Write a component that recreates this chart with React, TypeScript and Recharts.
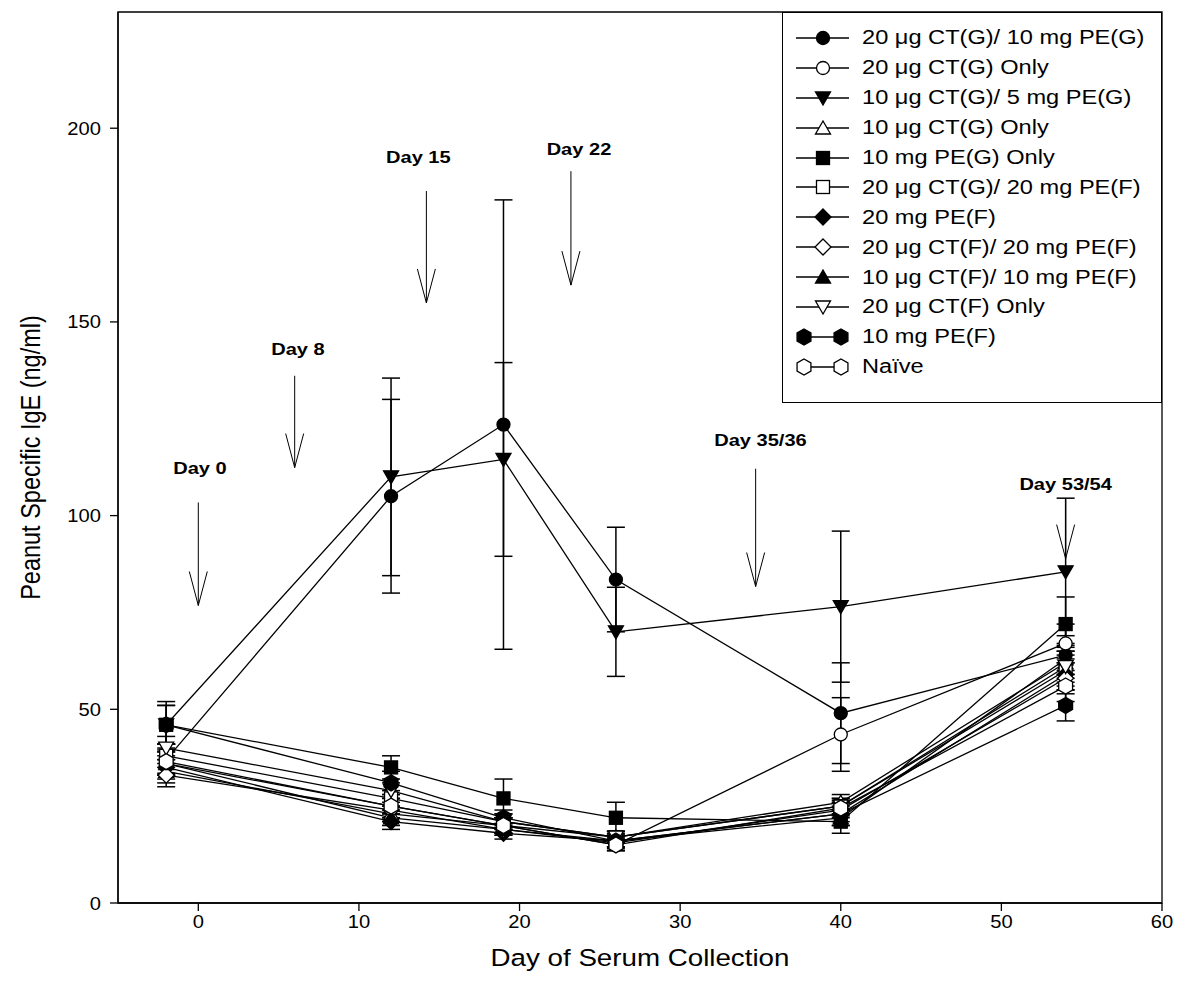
import React from "react";
import {
  LineChart,
  Line,
  XAxis,
  YAxis,
  ErrorBar,
  Legend,
  ReferenceArea,
  ReferenceLine,
  ReferenceDot,
  Label,
} from "recharts";

// serum collection days
const days = [-2, 12, 19, 26, 40, 54];

const groupNames = [
  "20 \u03bcg CT(G)/ 10 mg PE(G)",
  "20 \u03bcg CT(G) Only",
  "10 \u03bcg CT(G)/ 5 mg PE(G)",
  "10 \u03bcg CT(G) Only",
  "10 mg PE(G) Only",
  "20 \u03bcg CT(G)/ 20 mg PE(F)",
  "20 mg PE(F)",
  "20 \u03bcg CT(F)/ 20 mg PE(F)",
  "10 \u03bcg CT(F)/ 10 mg PE(F)",
  "20 \u03bcg CT(F) Only",
  "10 mg PE(F)",
  "Na\u00efve",
];
const groupShapes = [
  "circle", "circle", "triDown", "triUp", "square", "square",
  "diamond", "diamond", "triUp", "triDown", "hexagon", "hexagon",
];
const groupFilled = [true, false, true, false, true, false, true, false, true, false, true, false];

// IgE means (ng/ml)
const meanValues = [
  [37, 105, 123.5, 83.5, 49, 64],
  [36, 25, 20, 15, 43.5, 67],
  [46, 110, 114.5, 70, 76.5, 85.5],
  [34, 23, 20, 17, 26, 62],
  [46, 35, 27, 22, 21, 72],
  [38, 27, 21, 17, 25, 60],
  [35, 21, 18, 16, 23, 59],
  [33, 24, 19, 15.5, 24, 58],
  [36, 22, 19, 16, 22, 63],
  [40, 29, 21, 17, 25, 61],
  [46, 31, 22, 16, 23, 51],
  [36.5, 25, 20, 15, 24.5, 56],
];
const errorValues = [
  [4, 25, 58, 13.5, 13, 5],
  [3, 3, 2, 1.5, 9.5, 5],
  [6, 25.5, 25, 11.5, 19.5, 19],
  [3, 2, 2, 1.5, 2, 4],
  [5, 3, 5, 4, 3, 7],
  [3, 2, 2, 1.5, 2, 4],
  [3, 2, 1.5, 1.5, 2, 4],
  [3, 2, 1.5, 1.5, 2, 4],
  [3, 2, 1.5, 1.5, 2, 4],
  [3, 2, 2, 1.5, 2, 4],
  [5, 3, 2, 1.5, 3, 4],
  [3, 2, 2, 1.5, 2, 4],
];

// immunisation arrows
const arrowLabels = ["Day 0", "Day 8", "Day 15", "Day 22", "Day 35/36", "Day 53/54"];
const arrowDays = [0, 6, 14.2, 23.2, 34.7, 54];
const arrowTops = [103.4, 136.1, 183.8, 188.9, 112.1, 103.9];
const arrowTips = [76.8, 112.4, 154.9, 159.5, 81.7, 88.9];
const labelDays = [0.1, 6.2, 13.7, 23.7, 35, 54];
const labelLevels = [112.4, 143, 192.5, 194.6, 119.6, 108.2];

const xTicks = [0, 10, 20, 30, 40, 50, 60];
const yTicks = [0, 50, 100, 150, 200];

const FONT = "Arial, 'Liberation Sans', Helvetica, sans-serif";
const SX = 1.18;

const table = days.map((d, i) => {
  const row: any = { day: d };
  meanValues.forEach((m, g) => {
    row[`g${g}`] = m[i];
    row[`e${g}`] = errorValues[g][i];
  });
  return row;
});

function marker(shape: string, filled: boolean, cx: number, cy: number, key?: string) {
  const p = { fill: filled ? "#000" : "#fff", stroke: "#000", strokeWidth: 1.3 };
  if (shape === "circle") return <circle key={key} cx={cx} cy={cy} r={6.5} {...p} />;
  if (shape === "square") return <rect key={key} x={cx - 6.5} y={cy - 6.5} width={13} height={13} {...p} />;
  if (shape === "triDown")
    return <polygon key={key} points={`${cx - 7.5},${cy - 6} ${cx + 7.5},${cy - 6} ${cx},${cy + 7}`} {...p} />;
  if (shape === "triUp")
    return <polygon key={key} points={`${cx - 7.5},${cy + 6} ${cx + 7.5},${cy + 6} ${cx},${cy - 7}`} {...p} />;
  if (shape === "diamond")
    return <polygon key={key} points={`${cx},${cy - 8} ${cx + 8},${cy} ${cx},${cy + 8} ${cx - 8},${cy}`} {...p} />;
  const pts = [0, 1, 2, 3, 4, 5]
    .map((k) => {
      const a = (Math.PI / 3) * k - Math.PI / 2;
      return `${cx + 8 * Math.cos(a)},${cy + 8 * Math.sin(a)}`;
    })
    .join(" ");
  return <polygon key={key} points={pts} {...p} />;
}

const XTick = ({ x, y, payload }: any) => (
  <text transform={`translate(${x},${y + 15}) scale(1.12,1)`} textAnchor="middle" fontSize={18} fontFamily={FONT} fill="#000">
    {payload.value}
  </text>
);

const YTick = ({ x, y, payload }: any) => (
  <text transform={`translate(${x - 7},${y + 6.5}) scale(1.12,1)`} textAnchor="end" fontSize={18} fontFamily={FONT} fill="#000">
    {payload.value}
  </text>
);

const ArrowShape = (props: any) => {
  const { x1, y1, x2, y2 } = props;
  if (x1 == null) return null;
  return (
    <g stroke="#000" strokeWidth={1} fill="none">
      <line x1={x1} y1={y1} x2={x2} y2={y2} />
      <polyline points={`${x2 - 9},${y2 - 34} ${x2},${y2} ${x2 + 9},${y2 - 34}`} />
    </g>
  );
};

const renderLegend = () => (
  <div
    style={{
      boxSizing: "border-box",
      width: 380,
      height: 391,
      border: "1.3px solid #000",
      background: "#fff",
      paddingTop: 10,
      fontFamily: FONT,
      overflow: "hidden",
    }}
  >
    {groupNames.map((name, g) => (
      <div key={name} style={{ height: 29.9, display: "flex", alignItems: "center" }}>
        <svg width={78} height={28} style={{ flex: "none" }}>
          {groupShapes[g] === "hexagon" ? (
            <>
              <line x1={21} y1={14} x2={58} y2={14} stroke="#000" strokeWidth={1.3} />
              {marker("hexagon", groupFilled[g], 21, 14, "a")}
              {marker("hexagon", groupFilled[g], 58, 14, "b")}
            </>
          ) : (
            <>
              <line x1={13} y1={14} x2={66} y2={14} stroke="#000" strokeWidth={1.3} />
              {marker(groupShapes[g], groupFilled[g], 40, 14)}
            </>
          )}
        </svg>
        <span
          style={{
            display: "inline-block",
            fontSize: 20,
            whiteSpace: "nowrap",
            transform: `scaleX(${SX})`,
            transformOrigin: "left center",
            marginLeft: 1,
          }}
        >
          {name}
        </span>
      </div>
    ))}
  </div>
);

export default function App() {
  return (
    <div>
      <style>{"html, body { margin: 0; overflow: hidden; }"}</style>
      <LineChart
        width={1179}
        height={997}
        data={table}
        margin={{ top: 12, right: 17, left: 38, bottom: 34 }}
        style={{ fontFamily: FONT }}
      >
        <ReferenceArea x1={-5} x2={60} y1={0} y2={230} fill="none" stroke="#000" strokeWidth={1.3} ifOverflow="visible" />
        <XAxis
          dataKey="day"
          type="number"
          domain={[-5, 60]}
          ticks={xTicks}
          tick={<XTick />}
          tickSize={8}
          height={60}
          stroke="#000"
          strokeWidth={1.3}
          allowDataOverflow
        >
          <Label
            content={({ viewBox }: any) => (
              <text
                transform={`translate(${viewBox.x + viewBox.width / 2},${viewBox.y + 63}) scale(${SX},1)`}
                textAnchor="middle"
                fontSize={23.5}
                fontFamily={FONT}
                fill="#000"
              >
                Day of Serum Collection
              </text>
            )}
          />
        </XAxis>
        <YAxis
          type="number"
          domain={[0, 230]}
          ticks={yTicks}
          tick={<YTick />}
          tickSize={8}
          width={80}
          stroke="#000"
          strokeWidth={1.3}
          allowDataOverflow
        >
          <Label
            content={({ viewBox }: any) => (
              <text
                transform={`translate(${viewBox.x + 2},${viewBox.y + viewBox.height / 2}) rotate(-90) scale(1,${SX})`}
                textAnchor="middle"
                fontSize={23.5}
                fontFamily={FONT}
                fill="#000"
              >
                Peanut Specific IgE (ng/ml)
              </text>
            )}
          />
        </YAxis>

        {arrowLabels.map((lab, i) => (
          <ReferenceLine
            key={`arrow-${lab}`}
            segment={[
              { x: arrowDays[i], y: arrowTops[i] },
              { x: arrowDays[i], y: arrowTips[i] },
            ]}
            shape={ArrowShape}
          />
        ))}
        {arrowLabels.map((lab, i) => (
          <ReferenceDot
            key={`lab-${lab}`}
            x={labelDays[i]}
            y={labelLevels[i]}
            r={0}
            shape={(p: any) => (
              <text
                transform={`translate(${p.cx},${p.cy + 6}) scale(${SX},1)`}
                textAnchor="middle"
                fontSize={17}
                fontWeight="bold"
                fontFamily={FONT}
                fill="#000"
              >
                {lab}
              </text>
            )}
          />
        ))}

        {groupNames.map((name, g) => (
          <Line
            key={name}
            name={name}
            dataKey={`g${g}`}
            stroke="#000"
            strokeWidth={1.3}
            isAnimationActive={false}
            dot={(p: any) => marker(groupShapes[g], groupFilled[g], p.cx, p.cy, `d-${g}-${p.index}`)}
            activeDot={false}
          >
            <ErrorBar dataKey={`e${g}`} width={9} stroke="#000" strokeWidth={1.5} direction="y" />
          </Line>
        ))}

        <Legend
          content={renderLegend}
          layout="horizontal"
          verticalAlign="middle"
          align="center"
          wrapperStyle={{ top: 12, left: 782, width: 380, height: 391 }}
        />
      </LineChart>
    </div>
  );
}
